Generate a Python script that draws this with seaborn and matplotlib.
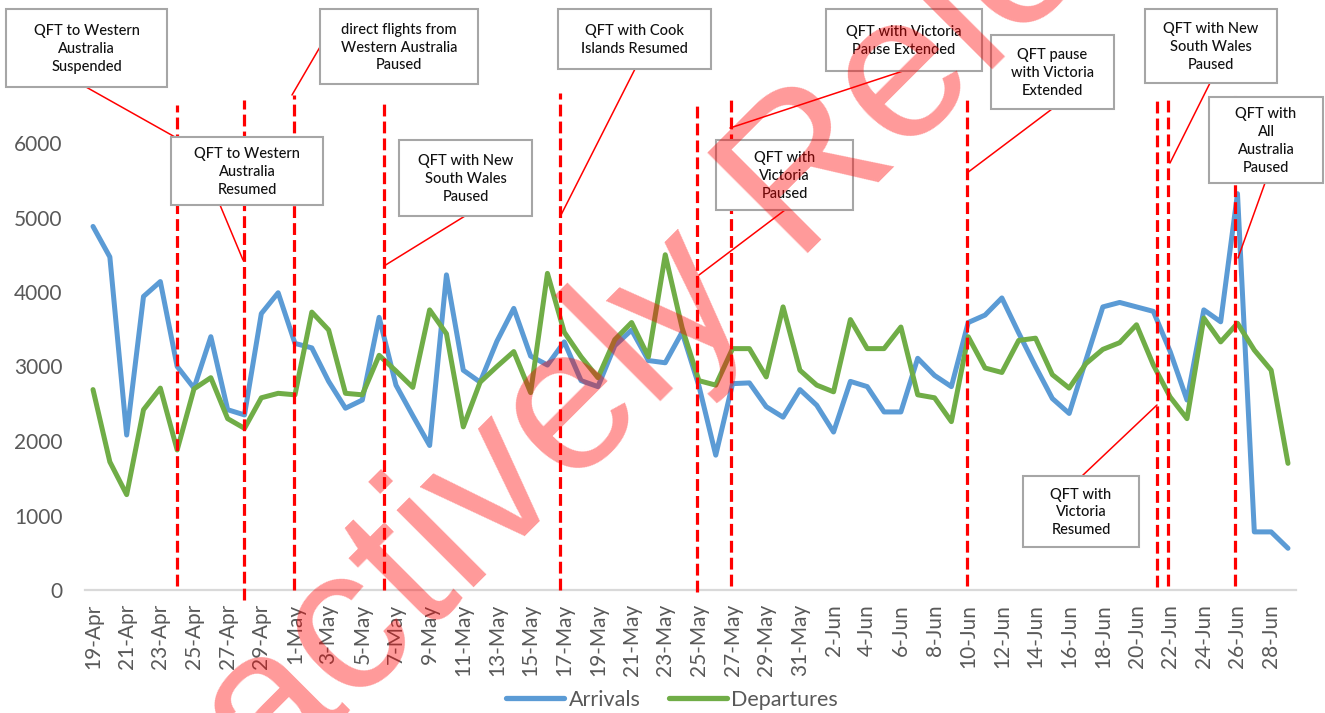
import matplotlib.pyplot as plt
from matplotlib.lines import Line2D
from matplotlib.patches import Rectangle
import seaborn as sns
import pandas as pd
import numpy as np

# daily passenger counts, 19 Apr - 29 Jun
dates = pd.date_range("2021-04-19", "2021-06-29", freq="D")

arrivals = [
    4880, 4470, 2080, 3940, 4140, 3000, 2710, 3400, 2420, 2350,
    3710, 3990, 3310, 3250, 2800, 2440, 2550, 3660, 2750, 2340,
    1940, 4230, 2950, 2790, 3340, 3780, 3140, 3020, 3330, 2810,
    2730, 3280, 3490, 3080, 3050, 3460, 2740, 1810, 2770, 2780,
    2460, 2320, 2690, 2480, 2120, 2800, 2730, 2390, 2390, 3110,
    2880, 2730, 3590, 3690, 3920, 3450, 3000, 2570, 2370, 3090,
    3800, 3860, 3800, 3740, 3200, 2550, 3760, 3600, 5320, 780,
    780, 560,
]
departures = [
    2690, 1720, 1280, 2420, 2710, 1880, 2700, 2850, 2300, 2170,
    2580, 2640, 2620, 3730, 3490, 2640, 2620, 3150, 2940, 2720,
    3760, 3440, 2190, 2790, 3000, 3200, 2650, 4250, 3460, 3130,
    2850, 3360, 3590, 3130, 4500, 3520, 2810, 2750, 3240, 3240,
    2860, 3800, 2950, 2750, 2660, 3630, 3240, 3240, 3530, 2620,
    2580, 2260, 3400, 2980, 2920, 3350, 3380, 2890, 2710, 3040,
    3230, 3320, 3560, 3020, 2590, 2300, 3650, 3330, 3580, 3220,
    2950, 1700,
]

# event markers (day index) and their notes
event_days = [4.99, 8.97, 11.94, 17.29, 27.75, 35.89, 37.91, 51.93, 63.22, 63.87, 67.85]
event_top = [6510, 6577, 6644, 6577, 6671, 6510, 6604, 6617, 6617, 6617, 6644]
event_bottom = [60, -135, 0, 0, 0, -30, 60, 60, 40, 60, 60]

notes = [
    "QFT to Western\nAustralia\nSuspended",
    "direct flights from\nWestern Australia\nPaused",
    "QFT to Western\nAustralia\nResumed",
    "QFT with New\nSouth Wales\nPaused",
    "QFT with Cook\nIslands Resumed",
    "QFT with Victoria\nPause Extended",
    "QFT with\nVictoria\nPaused",
    "QFT pause\nwith Victoria\nExtended",
    "QFT with New\nSouth Wales\nPaused",
    "QFT with\nAll\nAustralia\nPaused",
    "QFT with\nVictoria\nResumed",
]
# box (x0, y0, x1, y1) and leader line, in pixels from top-left
boxes = [
    (6, 9, 167, 87), (320, 9, 478, 84), (171, 137, 323, 205), (399, 140, 532, 216),
    (558, 9, 711, 69), (826, 9, 982, 71), (716, 140, 853, 210), (991, 35, 1114, 109),
    (1145, 9, 1277, 83), (1209, 97, 1323, 183), (1023, 476, 1139, 547),
]
leaders = [
    (86, 87, 175, 137), (320, 47, 292, 95), (220, 205, 243, 260), (465, 216, 384, 266),
    (635, 69, 560, 217), (903, 71, 730, 128), (785, 210, 699, 275), (1052, 109, 967, 173),
    (1210, 83, 1170, 163), (1265, 183, 1238, 258), (1082, 476, 1157, 405),
]

sns.set_theme(style="white")
plt.rcParams["font.family"] = ["Lato", "DejaVu Sans"]

W, H = 1325, 713
def fx(x):
    return x / W
def fy(y):
    return 1 - y / H

fig = plt.figure(figsize=(13.25, 7.13), dpi=100)
ax = fig.add_axes([fx(84.6), fy(590), (1296.4 - 84.6) / W, 7 * 74.5 / H])

df = pd.DataFrame({"day": np.arange(len(dates)), "Arrivals": arrivals, "Departures": departures})
long = df.melt(id_vars="day", var_name="series", value_name="count")
colors = {"Arrivals": "#5B9BD5", "Departures": "#70AD47"}
sns.lineplot(data=long, x="day", y="count", hue="series", palette=colors,
             linewidth=3.6, ax=ax, legend=False)
for ln in ax.lines:
    ln.set_solid_joinstyle("round")
    ln.set_solid_capstyle("round")

for d, top, bot in zip(event_days, event_top, event_bottom):
    ax.plot([d, d], [bot, top], color="#FF0000", lw=2.3, dashes=(3.7, 1.6),
            clip_on=False, zorder=3)

ax.set_xlim(-0.5, len(dates) - 0.5)
ax.set_ylim(0, 7000)
ax.set_yticks(range(0, 7000, 1000))
ticks = np.arange(0, len(dates), 2)
ax.set_xticks(ticks)
ax.set_xticklabels([f"{dates[i].day}-{dates[i].strftime('%b')}" for i in ticks], rotation=90)
ax.set_xlabel("")
ax.set_ylabel("")
for s in ["left", "top", "right"]:
    ax.spines[s].set_visible(False)
ax.spines["bottom"].set_color("#D9D9D9")
ax.spines["bottom"].set_linewidth(1.6)
ax.tick_params(axis="both", length=0, labelsize=15, colors="#595959")
ax.tick_params(axis="y", pad=16)
ax.tick_params(axis="x", pad=10)
ax.grid(False)

for (x0, y0, x1, y1), txt in zip(boxes, notes):
    fig.add_artist(Rectangle((fx(x0), fy(y1)), (x1 - x0) / W, (y1 - y0) / H,
                             transform=fig.transFigure, facecolor="white",
                             edgecolor="#A6A6A6", lw=1.5, zorder=5))
    fig.text(fx((x0 + x1) / 2), fy((y0 + y1) / 2 + 1), txt, ha="center", va="center",
             ma="center", fontsize=10.5, linespacing=1.35, color="#111111",
             fontweight="medium", zorder=6)

for x0, y0, x1, y1 in leaders:
    fig.add_artist(Line2D([fx(x0), fx(x1)], [fy(y0), fy(y1)], transform=fig.transFigure,
                          color="#FF0000", lw=1.1, zorder=4))

handles = [Line2D([], [], color=colors[k], lw=3.8) for k in colors]
fig.legend(handles, list(colors), loc="center", bbox_to_anchor=(fx(672), fy(700)),
           ncol=2, frameon=False, fontsize=15.5, labelcolor="#595959",
           handlelength=2.7, handletextpad=0.2, columnspacing=1.3)

fig.text(fx(44), fy(1017.6), "Proactively Released", rotation=45, rotation_mode="anchor",
         ha="left", va="baseline", fontsize=148.3, color="#FF0000", alpha=0.4,
         family="Liberation Sans", zorder=10)

fig.savefig("out.png", dpi=100)
